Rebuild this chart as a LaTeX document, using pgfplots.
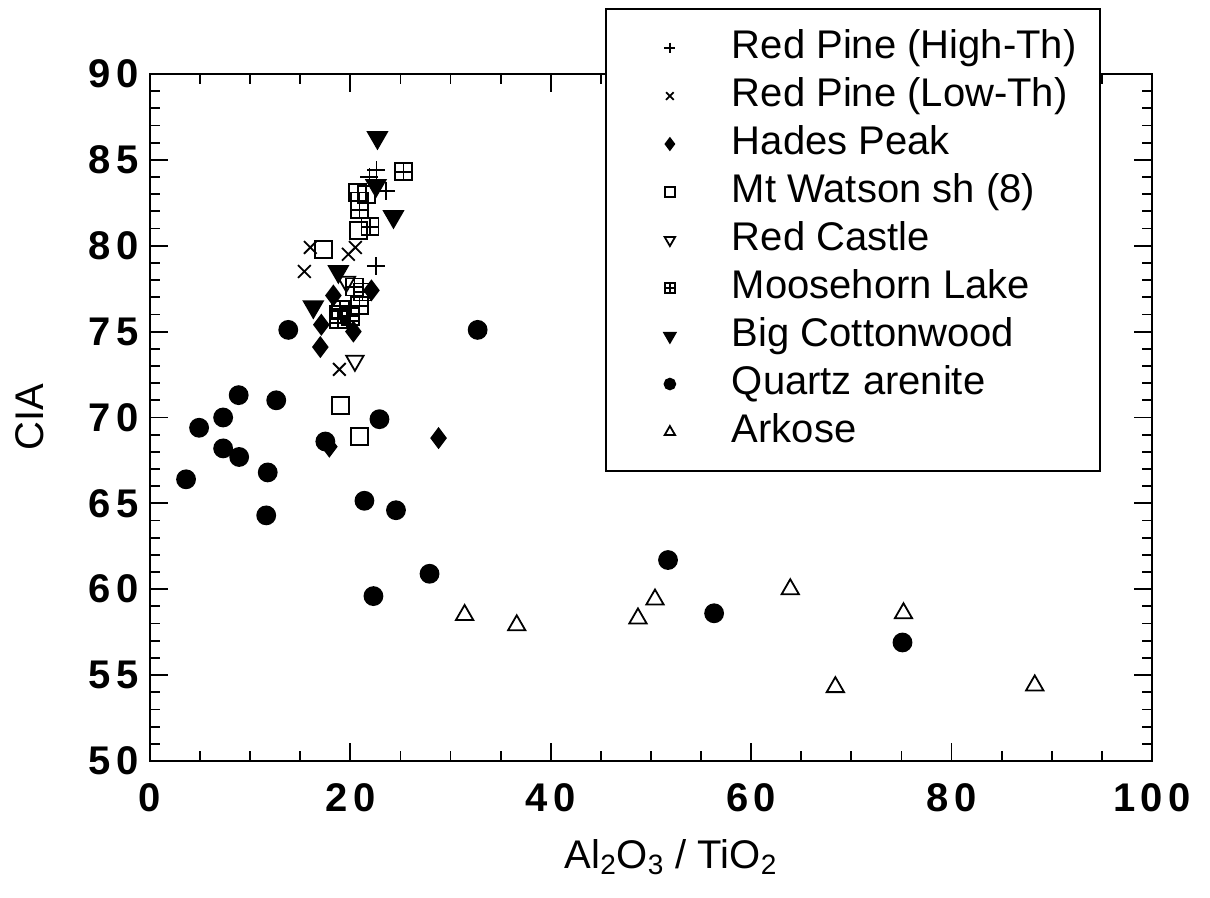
\documentclass[border=0pt]{standalone}
\usepackage{fontspec}
\setmainfont{Liberation Sans}
\usepackage{pgfplots}
\pgfplotsset{compat=1.18}
\usetikzlibrary{plotmarks}
\pgfdeclareplotmark{boxplus}{%
  \pgfpathrectangle{\pgfqpoint{-\pgfplotmarksize}{-\pgfplotmarksize}}{\pgfqpoint{2\pgfplotmarksize}{2\pgfplotmarksize}}%
  \pgfpathmoveto{\pgfqpoint{-\pgfplotmarksize}{0pt}}\pgfpathlineto{\pgfqpoint{\pgfplotmarksize}{0pt}}%
  \pgfpathmoveto{\pgfqpoint{0pt}{-\pgfplotmarksize}}\pgfpathlineto{\pgfqpoint{0pt}{\pgfplotmarksize}}%
  \pgfusepathqstroke}
\begin{document}
\begin{tikzpicture}
\begin{axis}[
  scale only axis, width=501pt, height=343.5pt,
  xmin=0, xmax=100, ymin=50, ymax=90,
  xtick={0,20,...,100}, ytick={50,55,...,90},
  minor x tick num=3, minor y tick num=4,
  tick align=inside, major tick length=9pt, minor tick length=5pt,
  axis line style={line width=1.2pt}, every tick/.style={black, line width=0.9pt},
  /pgf/number format/assume math mode=true,
  tick label style={font=\fontsize{20}{24}\selectfont\bfseries\addfontfeatures{LetterSpace=14}},
  xticklabel style={yshift=-8pt},
  yticklabel style={xshift=-2pt},
  label style={font=\fontsize{20}{24}\selectfont},
  xlabel={Al\textsubscript{2}O\textsubscript{3} / TiO\textsubscript{2}},
  ylabel={CIA},
  xlabel style={at={(axis description cs:0.52,-0.1397)}, anchor=center},
  ylabel style={at={(axis description cs:-0.1198,0.5)}, anchor=center},
  only marks,
  every axis plot/.append style={black, line width=0.9pt},
  every axis plot post/.append style={legend image code/.code={\path[draw=none,fill=none] (0pt,-2pt) rectangle (44pt,2pt); \draw[mark repeat=2,mark phase=2,##1,/tikz/every mark/.append style={scale=0.6}] plot coordinates {(0pt,0pt) (22pt,0pt) (44pt,0pt)};}},
  legend cell align=left,
  legend style={at={(axis description cs:0.454,1.096)}, anchor=north west,
    font=\fontsize{20}{24}\selectfont, draw=black, line width=1pt,
    inner xsep=10pt, inner ysep=7.5pt, column sep=7pt, row sep=0pt,
    nodes={text height=15pt, text depth=5pt, inner sep=2pt}},
]
\addplot[mark=+, mark size=4.5pt] coordinates {(22.6,84.4) (21.9,84.0) (23.55,83.2) (22.55,78.8) (19.9,75.6)};
\addlegendentry{Red Pine (High-Th)}
\addplot[mark=x, mark size=4.5pt] coordinates {(16.0,79.9) (19.8,79.5) (20.5,79.9) (15.4,78.5) (18.9,72.8)};
\addlegendentry{Red Pine (Low-Th)}
\addplot[mark=diamond*, mark size=4.8pt] coordinates {(22.1,77.4) (18.3,77.1) (17.1,75.4) (20.3,75.0) (17.0,74.1) (17.9,68.3) (28.8,68.8)};
\addlegendentry{Hades Peak}
\addplot[mark=square, mark size=4.25pt] coordinates {(20.7,83.1) (21.6,83.0) (20.8,80.9) (17.3,79.8) (18.8,76.0) (19.0,70.7) (20.9,68.9)};
\addlegendentry{Mt Watson sh (8)}
\addplot[mark=triangle, mark size=5pt, mark options={rotate=180}] coordinates {(20.45,73.3) (19.6,77.9)};
\addlegendentry{Red Castle}
\addplot[mark=boxplus, mark size=4.25pt] coordinates {(25.3,84.3) (20.9,82.6) (20.9,82.1) (21.95,81.1) (20.4,77.6) (21.2,77.3) (20.9,76.5) (19.0,76.3) (18.8,75.7) (20.0,75.9)};
\addlegendentry{Moosehorn Lake}
\addplot[mark=triangle*, mark size=5.5pt, mark options={rotate=180}] coordinates {(22.7,86.3) (22.55,83.5) (24.3,81.7) (18.8,78.5) (16.3,76.45)};
\addlegendentry{Big Cottonwood}
\addplot[mark=*, mark size=4.5pt] coordinates {(13.8,75.1) (8.85,71.3) (12.6,71.0) (7.3,70.0) (4.9,69.4) (22.9,69.9) (17.5,68.6) (7.3,68.2) (8.9,67.7) (11.75,66.8) (3.6,66.4) (21.4,65.15) (24.55,64.6) (11.6,64.3) (27.9,60.9) (22.3,59.6) (51.7,61.7) (56.3,58.6) (75.1,56.9) (32.7,75.1)};
\addlegendentry{Quartz arenite}
\addplot[mark=triangle, mark size=5pt] coordinates {(31.4,58.5) (36.6,57.9) (48.7,58.3) (50.4,59.4) (63.9,60.0) (75.2,58.6) (68.4,54.3) (88.3,54.4)};
\addlegendentry{Arkose}
\coordinate (bbsw) at (rel axis cs:-0.1497,-0.1994);
\coordinate (bbne) at (rel axis cs:1.0579,1.1077);
\end{axis}
\path (bbsw) rectangle (bbne);
\end{tikzpicture}
\end{document}
